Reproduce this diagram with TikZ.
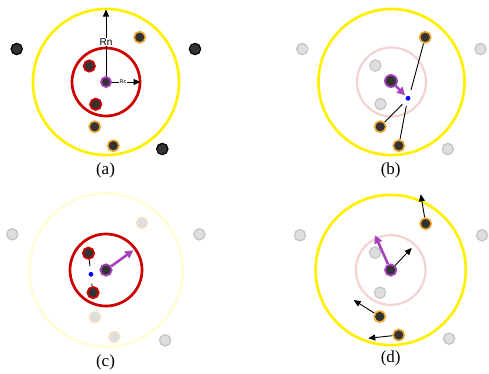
\documentclass[tikz,border=0pt]{standalone}
\usepackage{fontspec}
\setmainfont{Liberation Serif}
\newfontfamily\lsans{Liberation Sans}
\usetikzlibrary{arrows.meta}
\definecolor{yel}{HTML}{FFF000}
\definecolor{yelfaint}{HTML}{FFFCD6}
\definecolor{redc}{HTML}{CC0000}
\definecolor{pinkc}{HTML}{F4D2D2}
\definecolor{purp}{HTML}{A444BC}
\definecolor{orring}{HTML}{F2A835}
\definecolor{dotfill}{HTML}{333333}
\definecolor{grayfill}{HTML}{DEDEDE}
\definecolor{graystroke}{HTML}{C4C4C4}
\definecolor{ghostor}{HTML}{F6E2C2}
\definecolor{blued}{HTML}{0000FF}
\tikzset{
  dot/.style={circle, minimum size=11.3pt, inner sep=0pt, fill=dotfill, draw=black, line width=1.2pt},
  odot/.style={dot, draw=orring, line width=1.6pt},
  rdot/.style={dot, draw=redc, line width=1.8pt},
  pdot/.style={dot, draw=purp, line width=1.8pt},
  gdot/.style={circle, minimum size=11.3pt, inner sep=0pt, fill=grayfill, draw=graystroke, line width=1.2pt},
  godot/.style={gdot, draw=ghostor},
  bdot/.style={circle, minimum size=4.8pt, inner sep=0pt, fill=blued},
  yring/.style={draw=yel, line width=2.7pt},
  yfaint/.style={draw=yelfaint, line width=2.7pt},
  rring/.style={draw=redc, line width=2.7pt},
  pring/.style={draw=pinkc, line width=2.2pt},
  thinarrow/.style={draw=black, line width=0.9pt, -{Triangle[length=7pt,width=6pt]}},
  parrow/.style={draw=purp, line width=2.6pt, -{Triangle[length=8pt,width=8pt]}},
  conn/.style={draw=black, line width=0.9pt},
  panel/.style={font=\fontsize{17}{19}\selectfont},
}
\begin{document}
\begin{tikzpicture}[x=1pt,y=-1pt]
\useasboundingbox (0,0) rectangle (489,373);
% ---------------- (a)
\begin{scope}[shift={(106,82)}]
  \coordinate (ac) at (0,0);
  \path[yring] (ac) circle[radius=73];
  \path[rring] (ac) circle[radius=34];
  \coordinate (antop) at (0,-72.5);
  \coordinate (acend) at (34.5,0);
  \draw[thinarrow] (ac) -- (antop);
  \draw[thinarrow] (ac) -- (acend);
  \node[fill=white, inner sep=1pt, font=\lsans\fontsize{10}{11}\selectfont] (arn) at (0,-40) {Rn};
  \node[fill=white, inner sep=0.6pt, font=\lsans\fontsize{5.5}{6}\selectfont] (arc) at (17,0) {Rc};
  \node[dot] (ab1) at (-89.3,-33) {};
  \node[dot] (ab2) at (89,-33) {};
  \node[dot] (ab3) at (56.3,67) {};
  \node[odot] (ao1) at (33.7,-44.7) {};
  \node[odot] (ao2) at (-11.3,44.7) {};
  \node[odot] (ao3) at (7.3,63.7) {};
  \node[rdot] (ar1) at (-16.7,-16) {};
  \node[rdot] (ar2) at (-10.3,22.3) {};
  \node[pdot, minimum size=10pt] (acn) at (0,0) {};
  \node[panel] (alab) at (-0.5,88) {(a)};
\end{scope}
% ---------------- (b)
\begin{scope}[shift={(391.5,82)}]
  \coordinate (bc) at (0,0);
  \path[yring] (bc) circle[radius=73];
  \path[pring] (bc) circle[radius=34.5];
  \node[gdot] (bg1) at (-89.3,-33) {};
  \node[gdot] (bg2) at (89,-33) {};
  \node[gdot] (bg3) at (56.3,67) {};
  \node[gdot] (bg4) at (-16.2,-16.5) {};
  \node[gdot] (bg5) at (-11,22) {};
  \node[odot] (bo1) at (33.7,-44.7) {};
  \node[odot] (bo2) at (-11.3,44.7) {};
  \node[odot] (bo3) at (7.3,63.7) {};
  \node[bdot] (bb) at (16.5,16.3) {};
  \coordinate (be1) at (19.5,8);
  \coordinate (be2) at (10.8,22.3);
  \coordinate (be3) at (14.8,24);
  \draw[conn] (bo1) -- (be1);
  \draw[conn] (bo2) -- (be2);
  \draw[conn] (bo3) -- (be3);
  \node[pdot, minimum size=12pt] (bcn) at (-0.5,-1) {};
  \draw[parrow, shorten >=1.5pt] (bcn) -- (bb);
  \node[panel] (blab) at (-0.8,88) {(b)};
\end{scope}
% ---------------- (c)
\begin{scope}[shift={(106,270)}, scale=1.05]
  \coordinate (cc) at (0,0);
  \path[yfaint] (cc) circle[radius=73];
  \path[rring] (cc) circle[radius=34.3];
  \node[gdot] (cg1) at (-89.3,-34) {};
  \node[gdot] (cg2) at (89,-34) {};
  \node[gdot] (cg3) at (56.3,67) {};
  \node[godot] (co1) at (34.3,-45) {};
  \node[godot] (co2) at (-10.5,45) {};
  \node[godot] (co3) at (7.9,63.8) {};
  \node[rdot] (cr1) at (-16.7,-16) {};
  \node[rdot] (cr2) at (-12.3,21.5) {};
  \node[bdot] (cb) at (-14.3,4.1) {};
  \coordinate (ce1) at (-15.3,-3.8);
  \coordinate (ce2) at (-13.6,13);
  \draw[conn] (cr1) -- (ce1);
  \draw[conn] (ce2) -- (cr2);
  \node[pdot] (ccn) at (0,0) {};
  \coordinate (cpe) at (26,-18.8);
  \draw[parrow] (ccn) -- (cpe);
  \node[panel] (clab) at (-0.5,88.3) {(c)};
\end{scope}
% ---------------- (d)
\begin{scope}[shift={(390.7,270)}, scale=1.025]
  \coordinate (dc) at (0,0);
  \path[yring] (dc) circle[radius=73.3];
  \path[pring] (dc) circle[radius=34];
  \node[gdot] (dg1) at (-88.5,-33.9) {};
  \node[gdot] (dg2) at (89.1,-33.9) {};
  \node[gdot] (dg3) at (56.9,67) {};
  \node[gdot] (dg4) at (-15.3,-16.9) {};
  \node[gdot] (dg5) at (-10.4,22.1) {};
  \node[odot] (do1) at (34.1,-45.2) {};
  \node[odot] (do2) at (-10.7,45.4) {};
  \node[odot] (do3) at (7.8,63.4) {};
  \coordinate (de1) at (29.3,-73.9);
  \coordinate (de2) at (-36.1,29.3);
  \coordinate (de3) at (-21.9,66.6);
  \coordinate (de4) at (20.5,-21.5);
  \coordinate (de5) at (-15.3,-33.9);
  \draw[thinarrow] (do1) -- (de1);
  \draw[thinarrow] (do2) -- (de2);
  \draw[thinarrow] (do3) -- (de3);
  \node[pdot] (dcn) at (0,0) {};
  \draw[thinarrow] (dcn) -- (de4);
  \draw[parrow] (dcn) -- (de5);
  \node[panel] (dlab) at (0,86.5) {(d)};
\end{scope}
\end{tikzpicture}
\end{document}
